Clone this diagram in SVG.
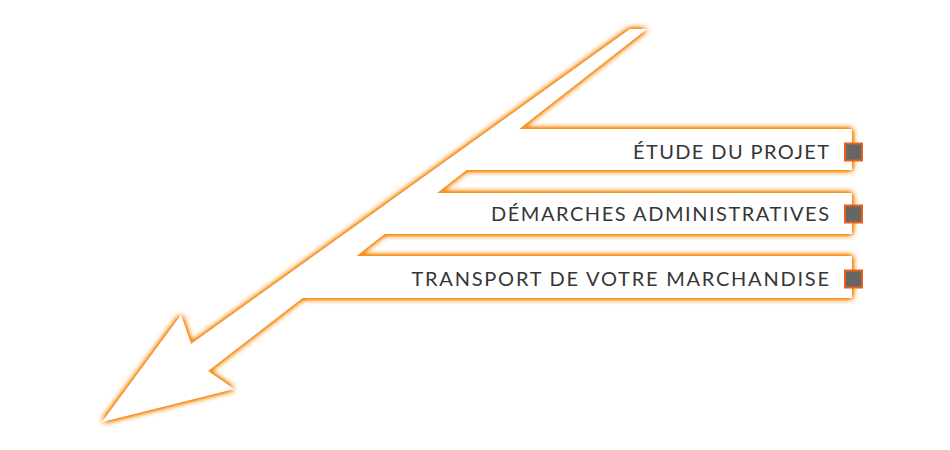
<svg xmlns="http://www.w3.org/2000/svg" width="950" height="450" viewBox="0 0 950 450">
  <defs>
    <filter id="glow" x="-10%" y="-10%" width="120%" height="120%">
      <feGaussianBlur in="SourceAlpha" stdDeviation="3.4" result="b"/>
      <feComponentTransfer in="b" result="b2">
        <feFuncA type="linear" slope="2.6"/>
      </feComponentTransfer>
      <feFlood flood-color="#F79420"/>
      <feComposite in2="b2" operator="in" result="g"/>
      <feMerge>
        <feMergeNode in="g"/>
        <feMergeNode in="SourceGraphic"/>
      </feMerge>
    </filter>
    <style>
      .lbl { font-family: Lato, "Liberation Sans", sans-serif; font-size: 20px; fill: #363636; }
      .sq { fill: #666666; stroke: #E8601C; stroke-width: 2; }
    </style>
  </defs>
  <rect width="950" height="450" fill="#ffffff"/>
  <g id="connectors">
    <path id="arrow" filter="url(#glow)" fill="#ffffff" d="M630,29 L647,29 L519,129 L852,129 L852,170 L466.5,170 L437,193 L852,193 L852,234 L384.5,234 L356.4,256 L852,256 L852,298 L302.6,298 L208,371 L234,389 L102,422 L181,315 L191,344 Z"/>
  </g>
  <g id="node-etude">
    <text class="lbl" x="633" y="158.5" textLength="196" lengthAdjust="spacing">ÉTUDE DU PROJET</text>
    <rect class="sq" x="845" y="143.5" width="17" height="17"/>
  </g>
  <g id="node-demarches">
    <text class="lbl" x="491" y="220.7" textLength="338" lengthAdjust="spacing">DÉMARCHES ADMINISTRATIVES</text>
    <rect class="sq" x="845" y="205.5" width="17" height="17"/>
  </g>
  <g id="node-transport">
    <text class="lbl" x="411.5" y="286" textLength="417.5" lengthAdjust="spacing">TRANSPORT DE VOTRE MARCHANDISE</text>
    <rect class="sq" x="845" y="270.5" width="17" height="17"/>
  </g>
</svg>
